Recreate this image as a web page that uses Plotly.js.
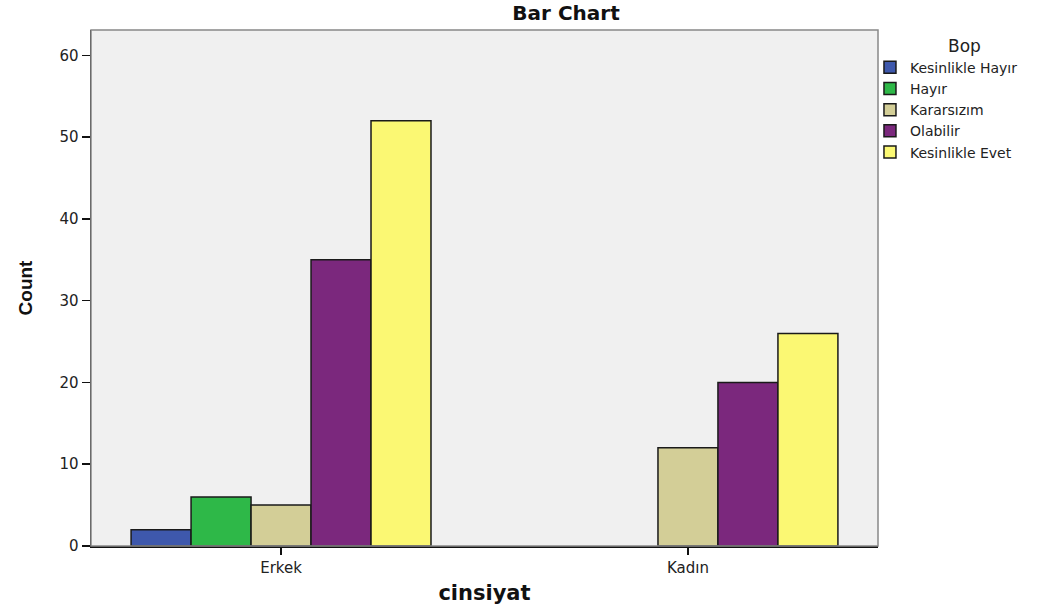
<!DOCTYPE html>
<html>
<head>
<meta charset="utf-8">
<script src="https://cdn.plot.ly/plotly-3.0.1.min.js"></script>
<style>html,body{margin:0;padding:0;background:#fff;}#chart{width:1048px;height:609px;}</style>
</head>
<body>
<div id="chart"></div>
<script>
var categories = ["Erkek", "Kadın"];
var seriesNames = ["Kesinlikle Hayır", "Hayır", "Kararsızım", "Olabilir", "Kesinlikle Evet"];
var kesinlikleHayir = [2, null];
var hayir = [6, null];
var kararsizim = [5, 12];
var olabilir = [35, 20];
var kesinlikleEvet = [52, 26];
var seriesColors = ["#3e58ac", "#2eb848", "#d3ce97", "#7b287d", "#fbf873"];
var yTicks = [0, 10, 20, 30, 40, 50, 60];
var legendTitle = "Bop";

var seriesValues = [kesinlikleHayir, hayir, kararsizim, olabilir, kesinlikleEvet];
var WIDE = "DejaVu Sans, Verdana, sans-serif";
var NARROW = "Liberation Sans, Arial, sans-serif";

var traces = seriesValues.map(function (vals, i) {
  return {
    type: "bar",
    name: seriesNames[i],
    x: categories,
    y: vals,
    marker: { color: seriesColors[i], line: { color: "#1a1a1a", width: 1.5 } },
    hoverinfo: "x+y+name"
  };
});

var layout = {
  width: 1048,
  height: 609,
  margin: { l: 91, r: 170, t: 30, b: 63 },
  paper_bgcolor: "#ffffff",
  plot_bgcolor: "#f0f0f0",
  font: { family: WIDE, size: 14, color: "#222" },
  barmode: "group",
  bargap: 0.263,
  bargroupgap: 0,
  title: {
    text: "<b>Bar Chart</b>",
    font: { family: WIDE, size: 20, color: "#111" },
    x: 0.6036, xanchor: "center", xref: "paper",
    y: 0.978, yanchor: "middle"
  },
  xaxis: {
    type: "category",
    range: [-0.467, 1.467],
    showgrid: false,
    zeroline: false,
    showline: true,
    linecolor: "#111",
    linewidth: 1.5,
    ticks: "outside",
    ticklen: 7,
    tickcolor: "#111",
    tickwidth: 1.5,
    tickfont: { family: WIDE, size: 15, color: "#222" },
    title: { text: "<b>cinsiyat</b>", font: { family: WIDE, size: 21, color: "#111" }, standoff: 10 }
  },
  yaxis: {
    range: [0, 63.1],
    tickvals: yTicks,
    showgrid: false,
    zeroline: false,
    showline: true,
    linecolor: "#111",
    linewidth: 1.5,
    ticks: "outside",
    ticklen: 8,
    tickcolor: "#111",
    tickwidth: 1.5,
    tickfont: { family: WIDE, size: 15, color: "#222" },
    title: { text: "<b>Count</b>", font: { family: NARROW, size: 19, color: "#111" }, standoff: 22 }
  },
  shapes: [{
    type: "rect", xref: "paper", yref: "paper", x0: 0, x1: 1, y0: 0, y1: 1,
    line: { color: "#888", width: 1.5 }, fillcolor: "rgba(0,0,0,0)", layer: "above"
  }],
  annotations: [{
    text: legendTitle, xref: "paper", yref: "paper", x: 1.1105, y: 0.969,
    xanchor: "center", yanchor: "middle", showarrow: false,
    font: { family: WIDE, size: 17, color: "#222" }
  }],
  legend: {
    x: 0.9898, xanchor: "left",
    y: 0.958, yanchor: "top",
    bgcolor: "rgba(0,0,0,0)",
    font: { family: WIDE, size: 14, color: "#222" },
    itemwidth: 30,
    tracegroupgap: 0
  },
  showlegend: true
};

Plotly.newPlot("chart", traces, layout, { displayModeBar: false, staticPlot: true });
</script>
</body>
</html>
